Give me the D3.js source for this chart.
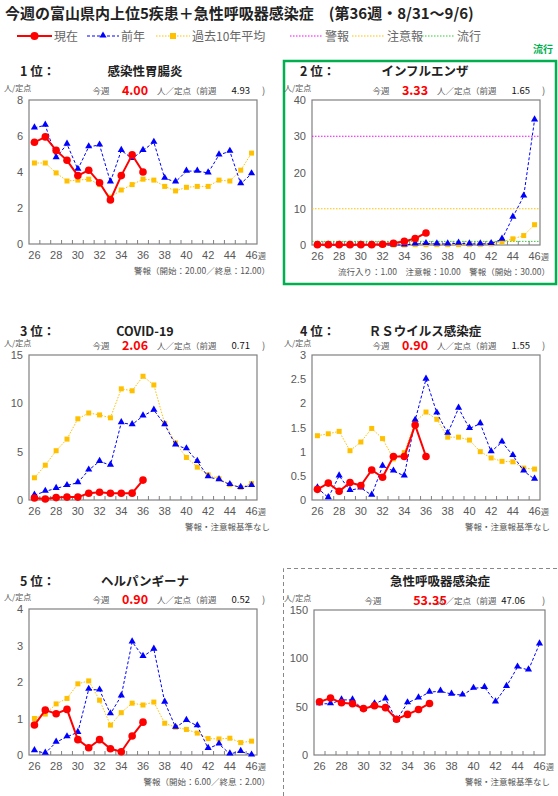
<!DOCTYPE html>
<html><head><meta charset="utf-8">
<script src="https://cdn.jsdelivr.net/npm/d3@7"></script>
<style>body{margin:0;background:#fff;font-family:"Noto Sans CJK JP","Noto Sans",sans-serif;}</style>
</head><body><svg id="c" width="558" height="796"></svg>
<script>
const weeks = d3.range(26,47);
const weekTicks = [26,28,30,32,34,36,38,40,42,44,46];

const titles = ["感染性胃腸炎","インフルエンザ","COVID-19","ＲＳウイルス感染症","ヘルパンギーナ","急性呼吸器感染症"];
const ranks = ["1 位：","2 位：","3 位：","4 位：","5 位：",""];
const thisWeek = ["4.00","3.33","2.06","0.90","0.90","53.35"];
const lastWeek = ["4.93","1.65","0.71","1.55","0.52","47.06"];
const notes = ["警報（開始：20.00／終息：12.00）","流行入り：1.00　注意報：10.00　警報（開始：30.00）","警報・注意報基準なし","警報・注意報基準なし","警報（開始：6.00／終息：2.00）","警報・注意報基準なし"];
const yMax = [8,40,15,3,4,150];
const yTicks = [[0,2,4,6,8],[0,10,20,30,40],[0,5,10,15],[0,0.5,1,1.5,2,2.5,3],[0,1,2,3,4],[0,50,100,150]];

const cur1=[5.65,5.95,5.2,4.65,3.8,4.1,3.4,2.45,3.8,4.95,4.0];
const prev1=[6.45,6.6,4.8,5.55,4.15,5.4,5.5,3.45,5.2,4.75,5.2,5.65,3.65,3.45,4.05,4.05,3.95,4.95,5.15,3.35,3.9];
const avg1=[4.5,4.5,3.95,3.5,3.55,3.6,3.3,2.6,3.0,3.3,3.6,3.55,3.2,2.95,3.15,3.2,3.2,3.55,3.5,4.1,5.05];
const cur2=[0.1,0.1,0.1,0.1,0.1,0.1,0.2,0.5,1.0,1.8,3.33];
const prev2=[0,0,0,0,0,0,0,0,0,0.3,0.4,0.3,0.3,0.5,0.3,0.3,0.4,1.6,7.7,13.5,34.5];
const avg2=[0,0,0,0,0,0,0,0,0,0.1,0.1,0.1,0.1,0.1,0.2,0.2,0.3,0.9,1.7,2.6,5.6];
const cur3=[0.2,0.1,0.25,0.3,0.3,0.7,0.8,0.7,0.7,0.71,2.06];
const prev3=[0.5,0.9,1.2,1.5,1.8,3.1,4.0,3.6,8.0,7.8,8.7,9.3,7.8,5.7,5.3,4.0,2.4,2.1,1.6,1.3,1.5];
const avg3=[2.3,3.6,5.1,6.3,8.4,9.0,8.8,8.5,11.5,11.3,12.8,11.9,7.9,5.9,4.4,3.4,2.6,2.2,1.6,1.3,1.7];
const cur4=[0.22,0.35,0.18,0.36,0.3,0.62,0.47,0.9,0.9,1.55,0.9];
const prev4=[0.25,0.05,0.5,0.2,0.25,0.1,0.7,0.6,0.5,1.65,2.5,1.8,1.38,1.9,1.48,1.58,1.0,1.2,0.92,0.6,0.43];
const avg4=[1.33,1.37,1.42,1.02,1.2,1.48,1.27,0.85,0.98,1.62,1.82,1.67,1.3,1.3,1.24,1.0,0.87,0.8,0.79,0.66,0.64];
const cur5=[0.82,1.23,1.13,1.25,0.42,0.2,0.42,0.17,0.09,0.52,0.9];
const prev5=[0.12,0.05,0.35,0.5,0.62,1.8,1.78,1.13,1.62,3.1,2.7,2.9,1.45,0.76,0.95,0.8,0.18,0.3,0.03,0.1,0];
const avg5=[1.0,1.12,1.4,1.55,1.95,2.03,1.5,0.82,1.16,1.42,1.37,1.45,0.87,0.76,0.7,0.6,0.45,0.44,0.46,0.34,0.38];
const cur6=[55,59,54,53,48,51,49,37,42,47,53.35];
const prev6=[53,53,57,57,47,53,58,36,54,59,65,66,63,62,69,70,55,71,91,88,115];
const avg6=[];
const curs=[cur1,cur2,cur3,cur4,cur5,cur6], prevs=[prev1,prev2,prev3,prev4,prev5,prev6], avgs=[avg1,avg2,avg3,avg4,avg5,avg6];
const flu = {alarm:30, warn:10, epidemic:1};

const svg = d3.select("#c");
svg.append("text").attr("x",5).attr("y",19).attr("font-size",15).attr("font-weight","bold").attr("fill","#222")
  .text("今週の富山県内上位5疾患＋急性呼吸器感染症　(第36週・8/31〜9/6)");
const lg = svg.append("g").attr("font-size",12).attr("fill","#666");
function legLine(x,color,dash,w,sym,label,len){
  lg.append("line").attr("x1",x).attr("x2",x+len).attr("y1",36).attr("y2",36).attr("stroke",color).attr("stroke-width",w).attr("stroke-dasharray",dash);
  if(sym) sym(x+len/2);
  lg.append("text").attr("x",x+len+2).attr("y",40.5).attr("fill","#666").text(label);
}
legLine(17,"#f00",null,2,cx=>lg.append("circle").attr("cx",cx).attr("cy",36).attr("r",4).attr("fill","#f00"),"現在",35);
legLine(87,"#00f","3,2",1,cx=>lg.append("path").attr("d",d3.symbol(d3.symbolTriangle,22)()).attr("transform",`translate(${cx},35.5)`).attr("fill","#00f"),"前年",32);
legLine(156,"#ffc000","1.5,1.5",1,cx=>lg.append("rect").attr("x",cx-3).attr("y",33).attr("width",6).attr("height",6).attr("fill","#ffc000"),"過去10年平均",34);
legLine(290,"#f0f","1.5,1.5",1.2,null,"警報",33);
legLine(352,"#ffc000","1.5,1.5",1.2,null,"注意報",33);
legLine(422,"#33cc33","1.5,1.5",1.2,null,"流行",33);
svg.append("text").attr("x",553).attr("y",53).attr("text-anchor","end").attr("font-size",10).attr("font-weight","bold").attr("fill","#00b050").text("流行");
svg.append("rect").attr("x",284).attr("y",61).attr("width",272).attr("height",223).attr("fill","none").attr("stroke","#00b050").attr("stroke-width",2.5);
svg.append("path").attr("d","M283.5,796 V568.5 H558").attr("fill","none").attr("stroke","#888").attr("stroke-dasharray","4,3");

const boxes = [
  {x0:29,x1:257,y0:100,y1:244,ox:0,oy:60},
  {x0:312,x1:540,y0:100,y1:245,ox:280,oy:60},
  {x0:29,x1:257,y0:355,y1:500,ox:0,oy:320},
  {x0:312,x1:540,y0:355,y1:500,ox:280,oy:320},
  {x0:29,x1:257,y0:609,y1:755,ox:0,oy:570},
  {x0:314,x1:545,y0:610,y1:755,ox:280,oy:570},
];

boxes.forEach((b,i)=>{
  const g = svg.append("g");
  const x = d3.scaleBand().domain(weeks).range([b.x0,b.x1]);
  const xc = w=>x(w)+x.bandwidth()/2;
  const y = d3.scaleLinear().domain([0,yMax[i]]).range([b.y1,b.y0]);
  if(ranks[i]) g.append("text").attr("x",b.ox+20).attr("y",b.oy+16).attr("font-size",12.5).attr("font-weight","bold").attr("fill","#222").text(ranks[i]);
  g.append("text").attr("x",b.ox+ (i===5?160:145)).attr("y",b.oy+16).attr("text-anchor","middle").attr("font-size",12.5).attr("font-weight","bold").attr("fill","#222").text(titles[i]);
  const ty = b.y0-6;
  g.append("text").attr("x",b.ox+4).attr("y",b.y0-9).attr("font-size",8).attr("fill","#555").text("人/定点");
  g.append("text").attr("x",b.ox+(i===5?93:101)).attr("y",ty).attr("text-anchor","middle").attr("font-size",8.5).attr("fill","#555").text("今週");
  g.append("text").attr("x",b.ox+(i===5?150:135)).attr("y",ty+1).attr("text-anchor","middle").attr("font-size",12.5).attr("font-weight","bold").attr("fill","#f00").text(thisWeek[i]);
  g.append("text").attr("x",b.ox+157).attr("y",ty).attr("font-size",8.5).attr("fill","#555").text("人／定点（前週");
  g.append("text").attr("x",b.ox+(i===5?245:250)).attr("y",ty).attr("text-anchor","end").attr("font-size",9.5).attr("fill","#111").text(lastWeek[i]);
  g.append("text").attr("x",b.ox+262).attr("y",ty).attr("font-size",9.5).attr("fill","#555").text(")");
  g.append("text").attr("x",b.ox+270).attr("y",b.y1+30).attr("text-anchor","end").attr("font-size",8.5).attr("fill","#555").text(notes[i]);
  const ya = g.append("g").attr("transform",`translate(${b.x0},0)`).call(d3.axisLeft(y).tickValues(yTicks[i]).tickSize(0).tickPadding(6).tickFormat(d=>d));
  ya.select(".domain").remove();
  ya.selectAll("text").attr("font-size",11).attr("fill","#595959").attr("font-family","Liberation Sans, sans-serif");
  const xa = g.append("g").attr("transform",`translate(0,${b.y1})`).call(d3.axisBottom(x).tickValues(weekTicks).tickSize(0).tickPadding(7));
  xa.select(".domain").remove();
  xa.selectAll("text").attr("font-size",11).attr("fill","#595959").attr("font-family","Liberation Sans, sans-serif");
  g.append("text").attr("x",b.x1+1).attr("y",b.y1+15).attr("font-size",8).attr("fill","#595959").text("週");
  g.selectAll(".tm").data(weeks.slice(1)).enter().append("line")
    .attr("x1",d=>x(d)).attr("x2",d=>x(d)).attr("y1",b.y1).attr("y2",b.y1-4).attr("stroke","#808080");
  g.append("rect").attr("x",b.x0).attr("y",b.y0).attr("width",b.x1-b.x0).attr("height",b.y1-b.y0).attr("fill","none").attr("stroke","#808080").attr("stroke-width",1.2);
  if(i===1){
    [[flu.alarm,"#f0f"],[flu.warn,"#ffc000"],[flu.epidemic,"#33cc33"]].forEach(([v,c])=>{
      g.append("line").attr("x1",b.x0).attr("x2",b.x1).attr("y1",y(v)).attr("y2",y(v)).attr("stroke",c).attr("stroke-width",1).attr("stroke-dasharray","1.5,1.5");
    });
  }
  const line = d3.line().x((d,j)=>xc(weeks[j])).y(d=>y(d));
  if(avgs[i].length){
    g.append("path").attr("d",line(avgs[i])).attr("fill","none").attr("stroke","#ffc000").attr("stroke-width",1).attr("stroke-dasharray","1.5,1.5");
    g.selectAll(".a").data(avgs[i]).enter().append("rect").attr("x",(d,j)=>xc(weeks[j])-2.5).attr("y",d=>y(d)-2.5).attr("width",5).attr("height",5).attr("fill","#ffc000");
  }
  g.append("path").attr("d",line(prevs[i])).attr("fill","none").attr("stroke","#00f").attr("stroke-width",1).attr("stroke-dasharray","3,2");
  g.selectAll(".p").data(prevs[i]).enter().append("path").attr("d",d3.symbol(d3.symbolTriangle,22)())
    .attr("transform",(d,j)=>`translate(${xc(weeks[j])},${y(d)-0.5})`).attr("fill","#00f");
  g.append("path").attr("d",line(curs[i])).attr("fill","none").attr("stroke","#f00").attr("stroke-width",2);
  g.selectAll(".c").data(curs[i]).enter().append("circle").attr("cx",(d,j)=>xc(weeks[j])).attr("cy",d=>y(d)).attr("r",3.8).attr("fill","#f00");
});
</script></body></html>
